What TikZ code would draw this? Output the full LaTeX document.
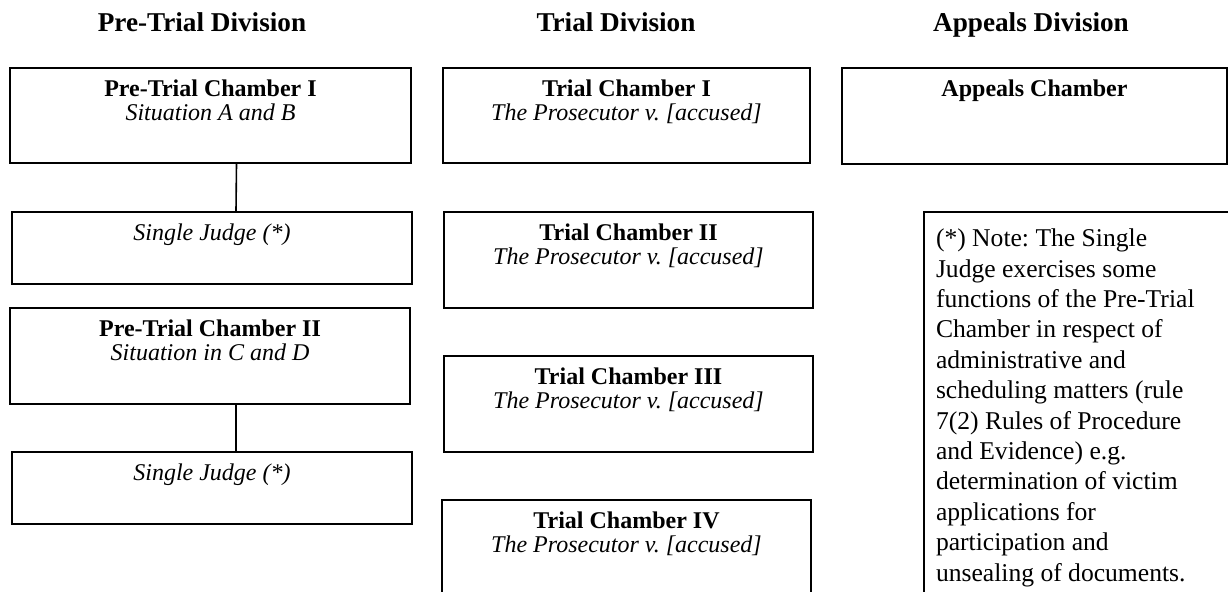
\documentclass[tikz,border=0pt]{standalone}
\usepackage{fontspec}
\setmainfont{Liberation Serif}
\usetikzlibrary{positioning}

\tikzset{
    chbox/.style={draw, line width=1pt, inner sep=0pt, anchor=north west},
    divhead/.style={font=\bfseries\fontsize{13.6}{15}\selectfont, anchor=base},
    joinline/.style={draw, line width=0.8pt}
}
% box contents: width, height, text (top aligned)
\newcommand{\boxbody}[3]{\parbox[c][#2][t]{#1}{\centering\frenchspacing\fontsize{12}{12}\selectfont\vspace*{6pt}#3}}

\begin{document}
\begin{tikzpicture}[x=0.5pt, y=-0.5pt]
    \clip (0,0) rectangle (1228,591);
    \fill[white] (0,0) rectangle (1228,591);

    % --- headings ---
    \node[divhead] (hpre) at (202,31) {Pre-Trial Division};
    \node[divhead] (htrial) at (616,31) {Trial Division};
    \node[divhead] (happ) at (1031,31) {Appeals Division};

    % --- pre-trial division ---
    \node[chbox] (pt1) at (9,67) {\boxbody{200.5pt}{47.5pt}{\textbf{Pre-Trial Chamber I}\\\textit{Situation A and B}}};
    \node[chbox] (sj1) at (11,211) {\boxbody{200pt}{36pt}{\textit{Single Judge (*)}}};
    \node[chbox] (pt2) at (9,307) {\boxbody{200pt}{48pt}{\textbf{Pre-Trial Chamber II}\\\textit{Situation in C and D}}};
    \node[chbox] (sj2) at (11,451) {\boxbody{200pt}{36pt}{\textit{Single Judge (*)}}};

    \draw[joinline] ([xshift=13pt]pt1.south) -- ([xshift=12pt]sj1.north);
    \draw[joinline] ([xshift=13pt]pt2.south) -- ([xshift=12pt]sj2.north);

    % --- trial division ---
    \node[chbox] (tc1) at (442,67) {\boxbody{183.5pt}{47.5pt}{\textbf{Trial Chamber I}\\\textit{The Prosecutor v. [accused]}}};
    \node[chbox] (tc2) at (443,211) {\boxbody{184.5pt}{48pt}{\textbf{Trial Chamber II}\\\textit{The Prosecutor v. [accused]}}};
    \node[chbox] (tc3) at (443,355) {\boxbody{184.5pt}{48pt}{\textbf{Trial Chamber III}\\\textit{The Prosecutor v. [accused]}}};
    \node[chbox] (tc4) at (441,499) {\boxbody{184.5pt}{60pt}{\textbf{Trial Chamber IV}\\\textit{The Prosecutor v. [accused]}}};

    % --- appeals division ---
    \node[chbox] (ac) at (841,67) {\boxbody{192.5pt}{48pt}{\textbf{Appeals Chamber}}};

    % note on the single judge
    \node[chbox] (note) at (923,211) {\parbox[c][200pt][t]{160pt}{\fontsize{12.8}{15.2}\selectfont\frenchspacing\vspace*{8.5pt}%
        \raggedright\leftskip=6pt
        (*) Note: The Single\\
        Judge exercises some\\
        functions of the Pre-Trial\\
        Chamber in respect of\\
        administrative and\\
        scheduling matters (rule\\
        7(2) Rules of Procedure\\
        and Evidence) e.g.\\
        determination of victim\\
        applications for\\
        participation and\\
        unsealing of documents.}};
\end{tikzpicture}
\end{document}
